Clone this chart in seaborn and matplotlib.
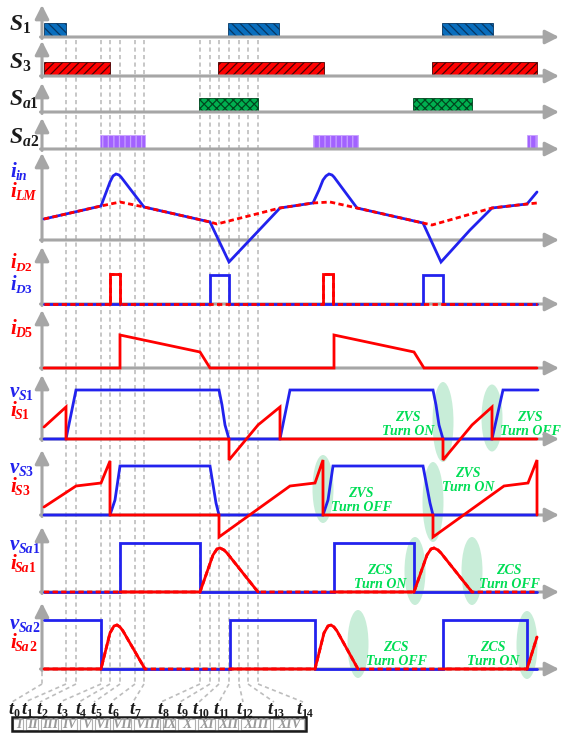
import re
import matplotlib
matplotlib.use('Agg')
import matplotlib.pyplot as plt
from matplotlib.patches import Ellipse, Rectangle
import seaborn as sns

# time marks t0..t14 of one switching period (time units, period = 214)
T_MARKS = [0, 22, 32, 57, 66, 76, 91, 100, 156, 166, 175, 185, 195, 204, 214]
INTERVALS = ['I', 'II', 'III', 'IV', 'V', 'VI', 'VII', 'VIII', 'IX', 'X', 'XI', 'XII', 'XIII', 'XIV']

# gate signals (on intervals)
S1_ON = [(0, 22), (184, 235), (398, 449)]
S3_ON = [(0, 66), (174, 280), (388, 493)]
SA1_ON = [(155, 214), (369, 428)]
SA2_ON = [(56, 101), (269, 314), (483, 493)]
GATE_H = 13.5

# input current / magnetizing current
ILM_T = [0, 57, 76, 100, 166, 173, 236, 269, 286, 313, 379, 388, 448, 483, 493]
ILM_A = [21, 34, 38, 33, 18, 16, 32, 37, 38, 32, 17, 15, 32, 36, 37]
IIN_T = [0, 57, 63, 66, 69, 72, 75, 77, 100, 166, 185, 236, 269, 275, 279, 282, 285, 288, 290, 313,
         379, 397, 426, 448, 483, 493]
IIN_A = [21, 34, 50, 58, 64, 66, 65, 63, 33, 18, -22, 32, 37, 50, 60, 64, 66, 65, 63, 32,
         17, -22, 10, 32, 36, 48]

# diode currents
ID2_T = [0, 66, 66, 76, 76, 279, 279, 289, 289, 493]
ID2_A = [0, 0, 30, 30, 0, 0, 30, 30, 0, 0]
ID3_T = [0, 166, 166, 185, 185, 379, 379, 399, 399, 493]
ID3_A = [0, 0, 29, 29, 0, 0, 29, 29, 0, 0]
ID5_T = [0, 76, 76, 156, 166, 290, 290, 370, 380, 493]
ID5_A = [0, 0, 33, 16, 0, 0, 33, 16, 0, 0]

# main switch S1
VS1_T = [0, 22, 32, 175, 178, 181, 185, 236, 246, 389, 392, 395, 399, 448, 459, 494]
VS1_A = [0, 0, 49, 49, 34, 14, 0, 0, 49, 49, 34, 14, 0, 0, 49, 49]
IS1_T = [0, 22, 22, 185, 185, 214, 236, 236, 399, 399, 428, 448, 448, 493]
IS1_A = [12, 32, 0, 0, -21, 14, 32, 0, 0, -21, 14, 32, 0, 0]

# main switch S3
VS3_T = [0, 66, 71, 76, 166, 172, 175, 279, 284, 289, 379, 386, 389, 493]
VS3_A = [0, 0, 15, 49, 49, 12, 0, 0, 15, 49, 49, 12, 0, 0]
IS3_T = [0, 32, 57, 66, 66, 175, 175, 246, 271, 279, 279, 389, 389, 460, 484, 493, 493]
IS3_A = [8, 29, 32, 54, 0, 0, -22, 29, 32, 55, 0, 0, -22, 29, 32, 55, 0]

# auxiliary switch Sa1
VSA1_T = [0, 76, 76, 156, 156, 290, 290, 370, 370, 493]
VSA1_A = [0, 0, 49, 49, 0, 0, 49, 49, 0, 0]
ISA1_T = [0, 76, 156, 169, 173, 176, 180, 183, 214, 290, 370, 383, 387, 390, 394, 397, 428, 493]
ISA1_A = [0, 0, 0, 37, 43, 44, 42, 39, 0, 0, 0, 37, 43, 44, 42, 39, 0, 0]

# auxiliary switch Sa2
VSA2_T = [0, 57, 57, 186, 186, 271, 271, 399, 399, 483, 483, 493]
VSA2_A = [49, 49, 0, 0, 49, 49, 0, 0, 49, 49, 0, 0]
ISA2_T = [0, 57, 66, 70, 73, 76, 79, 101, 186, 271, 280, 284, 287, 290, 293, 314, 399, 483, 493]
ISA2_A = [0, 0, 36, 43, 44, 42, 38, 0, 0, 0, 36, 43, 44, 42, 38, 0, 0, 0, 32]

BLUE = '#2222EE'
RED = '#FF0000'
GRAY = '#A6A6A6'
GUIDE = '#BDBDBD'
GREEN_TXT = '#00DD55'
GREEN_ELL = '#C8EDD8'

sns.set_theme(style='white')
plt.rcParams['font.family'] = ['Liberation Serif', 'DejaVu Sans']
plt.rcParams['hatch.linewidth'] = 0.9

W, H = 561, 733
X0 = 44      # pixel column of t = 0
XA = 42      # pixel column of the vertical axes
fig = plt.figure(figsize=(W / 100, H / 100), dpi=100)
renderer = fig.canvas.get_renderer()

# background layer in pixel coordinates: guides, ellipses, notes, interval table
bg = fig.add_axes([0, 0, 1, 1])
bg.set_xlim(0, W)
bg.set_ylim(H, 0)
bg.axis('off')


def label(x, y, main, sub, color, fs, center=False):
    # main symbol in bold italic, subscript letters italic and digits upright
    pieces = [(main, fs, True, 0)]
    for run in re.findall(r'[A-Za-z]+|\d+', sub):
        pieces.append((run, fs * 0.66, not run.isdigit(), fs * 0.2))
    items = []
    for s, size, it, dy in pieces:
        t = bg.text(x, y + dy, s, fontsize=size, style='italic' if it else 'normal', weight='bold',
                    color=color, ha='left', va='baseline')
        w = t.get_window_extent(renderer).width
        items.append(t)
        x += w - (0.5 if it else 0)
    if center:
        shift = (x - items[0].get_position()[0]) / 2
        for t in items:
            px, py = t.get_position()
            t.set_position((px - shift, py))


LAB_X = [14, 27, 42, 62, 81, 96, 113, 135, 163, 182, 201, 221, 245, 276, 305]
CELLS = [12, 25, 40, 60, 79, 94, 112, 133, 162, 177, 197, 217, 240, 272, 306]
dash = dict(color=GUIDE, lw=1.2, ls=(0, (2.5, 2)))
for k, t in enumerate(T_MARKS):
    x = X0 + t if k else XA
    bg.plot([x, x], [40 if k else 672, 684], **dash)
    bg.plot([x, LAB_X[k] - 2], [684, 702], **dash)
    label(LAB_X[k], 714, 't', str(k), 'k', 13, center=True)

bg.add_patch(Rectangle((CELLS[0], 717), CELLS[-1] - CELLS[0], 14, fill=False, ec='k', lw=1.8, zorder=3))
for i, name in enumerate(INTERVALS):
    bg.add_patch(Rectangle((CELLS[i] + 1.5, 718.5), CELLS[i + 1] - CELLS[i] - 3, 11, fill=False,
                           ec='#B0B0B0', lw=0.8))
    bg.text((CELLS[i] + CELLS[i + 1]) / 2, 728.5, name, fontsize=10, style='italic', weight='bold',
            color='#9A9A9A', ha='center', va='baseline')

for cx, cy, w, h in [(443, 422, 21, 80), (492, 418, 21, 67), (323, 489, 21, 68), (433, 502, 21, 80),
                     (415, 571, 21, 68), (472, 571, 21, 68), (358, 644, 21, 68), (527, 645, 21, 68)]:
    bg.add_patch(Ellipse((cx, cy), w, h, color=GREEN_ELL, lw=0))

for cx, y, l1, l2 in [(408, 417, 'ZVS', 'Turn ON'), (530, 417, 'ZVS', 'Turn OFF'),
                      (361, 493, 'ZVS', 'Turn OFF'), (468, 473, 'ZVS', 'Turn ON'),
                      (380, 570, 'ZCS', 'Turn ON'), (509, 570, 'ZCS', 'Turn OFF'),
                      (396, 647, 'ZCS', 'Turn OFF'), (493, 647, 'ZCS', 'Turn ON')]:
    for s, yy in [(l1, y + 4), (l2, y + 18)]:
        bg.text(cx, yy, s, fontsize=10, style='italic', weight='bold', color=GREEN_TXT,
                ha='center', va='baseline')

for main, sub, c, y, fs in [('S', '1', 'k', 30, 17), ('S', '3', 'k', 68, 17), ('S', 'a1', 'k', 105, 17),
                            ('S', 'a2', 'k', 143, 17), ('i', 'in', BLUE, 177, 15), ('i', 'LM', RED, 197, 15),
                            ('i', 'D2', RED, 268, 14.5), ('i', 'D3', BLUE, 290, 14.5), ('i', 'D5', RED, 334, 15),
                            ('v', 'S1', BLUE, 397, 15), ('i', 'S1', RED, 416, 15), ('v', 'S3', BLUE, 473, 15),
                            ('i', 'S3', RED, 492, 15), ('v', 'Sa1', BLUE, 550, 15), ('i', 'Sa1', RED, 569, 15),
                            ('v', 'Sa2', BLUE, 629, 15), ('i', 'Sa2', RED, 648, 15)]:
    label(10, y, main, sub, c, fs)

arrow = dict(arrowstyle='-|>,head_length=0.75,head_width=0.38', mutation_scale=11, color=GRAY,
             lw=2.2, shrinkA=0, shrinkB=0)
limits = {}


def panel(base, tip, below=30):
    ax = fig.add_axes([XA / W, 1 - (base + below) / H, (W - XA) / W, (base + below - tip) / H])
    ax.axis('off')
    limits[ax] = ((XA - X0, W - X0), (-below, base - tip))
    ax.annotate('', xy=(XA - X0, base - tip), xytext=(XA - X0, -1.5), arrowprops=arrow, zorder=2)
    ax.annotate('', xy=(W - 2 - X0, 0), xytext=(XA - X0 - 1.5, 0), arrowprops=arrow, zorder=2)
    return ax


def trace(ax, t, a, color, dashed=False, z=3):
    sns.lineplot(x=t, y=a, ax=ax, color=color, lw=2.0, estimator=None, sort=False,
                 linestyle=(0, (1.9, 1.2)) if dashed else '-', zorder=z, clip_on=False,
                 solid_joinstyle='miter')


def part(t, a, lo, hi):
    pts = [(x, y) for x, y in zip(t, a) if lo <= x <= hi]
    return [p[0] for p in pts], [p[1] for p in pts]


def gates(ax, on, face, edge, hatch):
    ax.bar([s for s, e in on], GATE_H, width=[e - s for s, e in on], bottom=0.3, align='edge',
           color=face, edgecolor=edge, hatch=hatch, lw=0.6, zorder=1)


gates(panel(37, 5), S1_ON, '#0A6EBD', '#073763', '\\\\\\\\')
gates(panel(76, 41), S3_ON, '#FF0000', '#4A0000', '////')
gates(panel(112, 83), SA1_ON, '#00B050', '#00471F', 'xxxx')
gates(panel(149, 118), SA2_ON, '#A262FF', '#C9A2FF', '|||')

ax = panel(240, 153)
trace(ax, IIN_T, IIN_A, BLUE)
trace(ax, ILM_T, ILM_A, RED, dashed=True, z=4)

ax = panel(304, 247)
trace(ax, ID3_T, ID3_A, BLUE)
trace(ax, ID2_T, ID2_A, RED, dashed=True, z=4)
for lo, hi in [(66, 76), (279, 289)]:
    trace(ax, *part(ID2_T, ID2_A, lo, hi), RED, z=5)

ax = panel(368, 310)
trace(ax, ID5_T, ID5_A, RED)

ax = panel(439, 375)
trace(ax, VS1_T, VS1_A, BLUE)
trace(ax, IS1_T, IS1_A, RED, z=4)

ax = panel(515, 450)
trace(ax, VS3_T, VS3_A, BLUE)
trace(ax, IS3_T, IS3_A, RED, z=4)

ax = panel(592, 527)
trace(ax, VSA1_T, VSA1_A, BLUE)
trace(ax, ISA1_T, ISA1_A, RED, dashed=True, z=4)
for lo, hi in [(76, 214), (290, 428)]:
    trace(ax, *part(ISA1_T, ISA1_A, lo, hi), RED, z=5)

ax = panel(669, 603)
trace(ax, VSA2_T, VSA2_A, BLUE)
trace(ax, ISA2_T, ISA2_A, RED, dashed=True, z=4)
for lo, hi in [(0, 101), (186, 314), (399, 493)]:
    trace(ax, *part(ISA2_T, ISA2_A, lo, hi), RED, z=5)

for ax, (xl, yl) in limits.items():
    ax.set_xlim(*xl)
    ax.set_ylim(*yl)

fig.savefig('out.png', dpi=100)
